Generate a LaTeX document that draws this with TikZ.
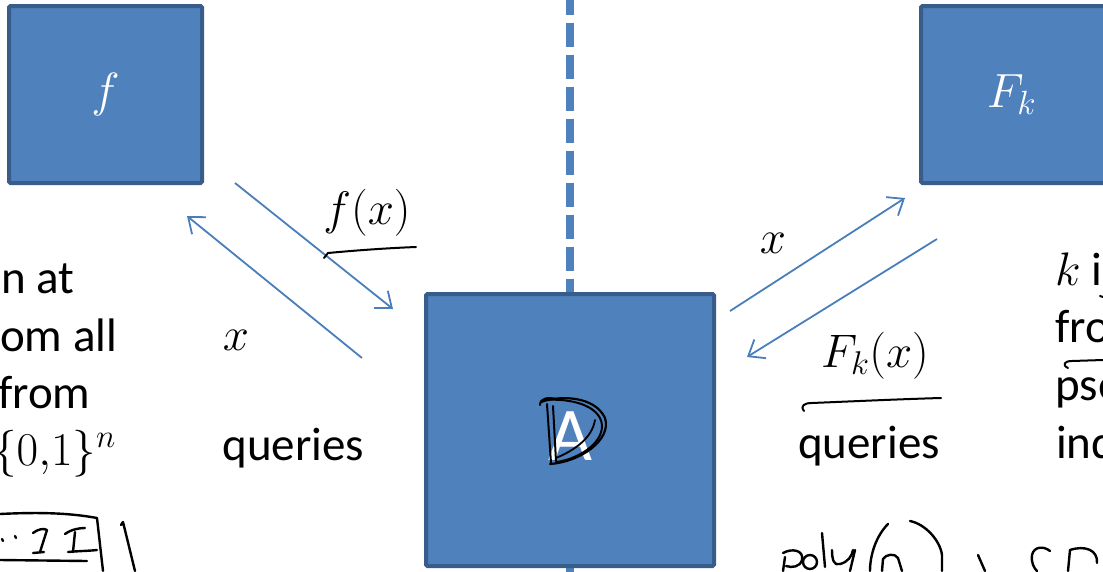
\RequirePackage{fix-cm}
\documentclass[tikz,border=0pt]{standalone}
\usepackage{fontspec}
\setmainfont{Carlito}
\usetikzlibrary{arrows.meta}
\definecolor{boxfill}{HTML}{4F81BD}
\definecolor{boxline}{HTML}{385D8A}
\definecolor{arrowblue}{HTML}{4A7EBB}
\tikzset{
  bluebox/.style={draw=boxline, fill=boxfill, line width=4pt, rounded corners=1.5pt, inner sep=0pt},
  flow/.style={draw=arrowblue, line width=1.8pt, -{Straight Barb[length=14pt,width=22pt,line width=1.8pt]}},
  ink/.style={draw=black, line width=2.4pt, line cap=round, line join=round},
  big/.style={font=\fontsize{47}{57}\selectfont, inner sep=0pt},
  boxlabel/.style={font=\fontsize{48}{57}\selectfont, text=white},
}
\begin{document}
\begin{tikzpicture}[x=1pt,y=-1pt]
\useasboundingbox (0,0) rectangle (1103,571);
\clip (0,0) rectangle (1103,571);

% dashed separator
\draw[boxfill, line width=8pt, dash pattern=on 24pt off 8pt, dash phase=9pt] (570,0) -- (570,575);

% boxes
\node[bluebox, minimum width=193pt, minimum height=177pt] (fbox) at (105.5,94.5) {};
\node[boxlabel] (flabel) at (fbox) {$f$};
\node[bluebox, minimum width=193pt, minimum height=177pt] (Fbox) at (1017.5,94.5) {};
\node[boxlabel, xshift=-6pt] (Flabel) at (Fbox) {$F_k$};
\node[bluebox, minimum width=288pt, minimum height=272pt] (abox) at (570,430) {};
\node[font=\fontsize{76}{80}\selectfont, text=white, anchor=base, inner sep=0pt] (alabel) at (570,460) {A};

% hand-drawn D over A
\draw[ink, line width=2.2pt] (541,402) .. controls (560,395) and (595,396) .. (605,418) .. controls (612,440) and (580,462) .. (550,464);
\draw[ink, line width=2pt] (544,400) .. controls (570,398) and (600,405) .. (602,425) .. controls (603,445) and (575,460) .. (556,462);
\draw[ink, line width=2pt] (547,404) -- (551,463);
\draw[ink, line width=2pt] (553,406) -- (556,461);
\draw[ink, line width=1.8pt] (556,458) .. controls (575,450) and (592,438) .. (595,420);
\draw[ink, line width=2pt] (540,405) .. controls (540,398) and (548,397) .. (556,399);

% arrows
\coordinate (p1) at (235,183); \coordinate (p2) at (393,309);
\coordinate (q1) at (362,358); \coordinate (q2) at (187,216);
\coordinate (r1) at (730,311); \coordinate (r2) at (905,198);
\coordinate (s1) at (937,239); \coordinate (s2) at (747,357);
\draw[flow] (p1) -- (p2);
\draw[flow] (q1) -- (q2);
\draw[flow] (r1) -- (r2);
\draw[flow] (s1) -- (s2);

% labels
\node[big, anchor=base] (fx) at (367,224) {$f(x)$};
\draw[ink, line width=2pt] (324,258) -- (328,253) .. controls (360,250) and (390,248) .. (416,247);
\node[big, anchor=base] (xl) at (236,350) {$x$};
\node[big, anchor=base] (xr) at (773,253) {$x$};
\node[big, anchor=base] (Fkx) at (875,367) {$F_k(x)$};
\draw[ink, line width=2pt] (804,411) .. controls (800,406) and (804,403) .. (812,403) .. controls (860,401) and (905,399) .. (941,398);
\node[big, anchor=base] (ql) at (293.5,460) {queries};
\node[big, anchor=base] (qr) at (869,458) {queries};

% left text (cut off by the frame, as in the reference)
\node[big, anchor=base west] (l1) at (1,293) {n at};
\node[big, anchor=base west] (l2) at (0,351) {om all};
\node[big, anchor=base west] (l3) at (-2,408) {from};
\node[big, anchor=base west] (l4) at (-7,465) {$\{0{,}1\}^n$};

% right text (cut off by the frame, as in the reference)
\node[big, anchor=base west] (r1t) at (1055,285) {$k$ is};
\node[big, anchor=base west] (r2t) at (1055,342) {from};
\node[big, anchor=base west] (r3t) at (1055,400) {pse};
\node[big, anchor=base west] (r4t) at (1056,458) {ind};
\draw[ink, line width=2pt] (1100,296) -- (1103,297);
\draw[ink, line width=2pt] (1068,368) .. controls (1062,365) and (1064,361) .. (1072,361) -- (1103,360);

% hand-written notes bottom left
\draw[ink] (0,514) .. controls (40,512) and (70,513) .. (97,518) -- (103,571);
\draw[ink] (0,560) -- (87,561);
\draw[ink] (2,539) -- (3,541);
\draw[ink] (15,536) -- (16,538);
\draw[ink] (33,533) .. controls (38,529) and (44,528) .. (47,530) -- (40,552);
\draw[ink] (33,553) -- (44,552);
\draw[ink] (65,534) .. controls (72,529) and (80,528) .. (85,528);
\draw[ink] (75,532) -- (73,552);
\draw[ink] (68,552) .. controls (78,551) and (88,551) .. (97,550);
\draw[ink] (121,525) -- (123,522) -- (135,571);

% hand-written notes bottom right
\draw[ink] (785,557) -- (783,571);
\draw[ink] (783,553) .. controls (792,548) and (804,550) .. (802,560) .. controls (800,567) and (792,568) .. (786,566);
\draw[ink] (810,562) circle (7pt);
\draw[ink] (822,533) -- (825,567);
\draw[ink] (832,550) .. controls (832,560) and (834,566) .. (840,564) .. controls (848,562) and (852,556) .. (853,550);
\draw[ink] (855,550) -- (850,571);
\draw[ink] (888,524) .. controls (876,536) and (870,555) .. (870,571);
\draw[ink] (882,571) -- (883,559) .. controls (886,554) and (895,553) .. (898,558) -- (902,571);
\draw[ink] (910,521) .. controls (925,524) and (940,540) .. (942,555) -- (942,571);
\draw[ink] (978,555) -- (985,571);
\draw[ink] (1050,551) .. controls (1044,546) and (1034,546) .. (1032,555) .. controls (1031,563) and (1034,568) .. (1037,571);
\draw[ink] (1070,550) -- (1068,571);
\draw[ink] (1070,550) .. controls (1085,545) and (1098,550) .. (1097,563);
\end{tikzpicture}
\end{document}
